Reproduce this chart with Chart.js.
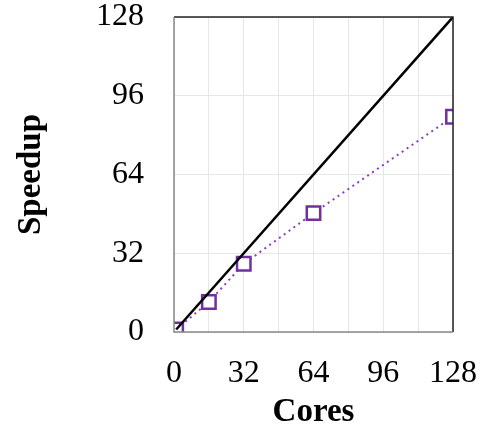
<!DOCTYPE html>
<html>
<head>
<meta charset="utf-8">
<script src="https://cdn.jsdelivr.net/npm/chart.js@4/dist/chart.umd.min.js"></script>
<style>
  html, body { margin: 0; padding: 0; background: #fff; }
  #wrap { width: 485px; height: 434px; }
</style>
</head>
<body>
<div id="wrap"><canvas id="chart"></canvas></div>
<script>
const cores = [1, 16, 32, 64, 128];
const speedup = [1, 12.2, 27.7, 48.3, 87.5];
const idealCores = [1, 128];
const idealSpeedup = [1, 128];
const axisTicks = [0, 32, 64, 96, 128];

const serif = '"Liberation Serif", "Times New Roman", serif';

// frame round the plot area: grey left/bottom, dark top/right
const framePlugin = {
    id: 'frame',
    afterDatasetsDraw(chart) {
        const { ctx, chartArea: a } = chart;
        ctx.save();
        ctx.lineWidth = 1.5;
        ctx.strokeStyle = '#222';
        ctx.beginPath();
        ctx.moveTo(a.left, a.top);
        ctx.lineTo(a.right, a.top);
        ctx.lineTo(a.right, a.bottom);
        ctx.stroke();
        ctx.strokeStyle = '#888';
        ctx.beginPath();
        ctx.moveTo(a.left, a.top);
        ctx.lineTo(a.left, a.bottom);
        ctx.lineTo(a.right, a.bottom);
        ctx.stroke();
        ctx.restore();
    }
};

new Chart(document.getElementById('chart'), {
    type: 'scatter',
    data: {
        datasets: [
            {
                label: 'Ideal',
                data: idealCores.map((c, i) => ({ x: c, y: idealSpeedup[i] })),
                showLine: true,
                borderColor: '#000',
                borderWidth: 2.5,
                pointRadius: 0,
                order: 0
            },
            {
                label: 'Measured',
                data: cores.map((c, i) => ({ x: c, y: speedup[i] })),
                showLine: true,
                borderColor: '#8a3fc0',
                borderWidth: 2,
                borderDash: [2, 4],
                pointStyle: 'rect',
                pointRadius: 9.5,
                pointBorderWidth: 2.5,
                pointBorderColor: '#7030a0',
                pointBackgroundColor: '#fff',
                order: 1
            }
        ]
    },
    options: {
        responsive: true,
        maintainAspectRatio: false,
        animation: false,
        layout: { padding: { top: 17, right: 32, left: 0, bottom: 0 } },
        plugins: {
            legend: { display: false },
            tooltip: { enabled: false }
        },
        scales: {
            x: {
                type: 'linear',
                min: 0,
                max: 128,
                border: { display: false },
                grid: { color: '#e6e6e6', lineWidth: 1, drawTicks: false },
                afterBuildTicks: axis => {
                    axis.ticks = [];
                    for (let v = 0; v <= 128; v += 16) axis.ticks.push({ value: v });
                },
                ticks: {
                    autoSkip: false,
                    maxRotation: 0,
                    padding: 22,
                    color: '#000',
                    font: { family: serif, size: 32 },
                    callback: v => axisTicks.includes(v) ? String(v) : ''
                },
                title: {
                    display: true,
                    text: 'Cores',
                    color: '#000',
                    padding: { top: 0, bottom: 2 },
                    font: { family: serif, size: 33, weight: 'bold' }
                },
                afterFit: axis => {
                    axis.height = 102;
                    axis.paddingLeft = 0;
                    axis.paddingRight = 0;
                }
            },
            y: {
                type: 'linear',
                min: 0,
                max: 128,
                border: { display: false },
                grid: { color: '#e6e6e6', lineWidth: 1, drawTicks: false },
                afterBuildTicks: axis => {
                    axis.ticks = axisTicks.map(v => ({ value: v }));
                },
                ticks: {
                    padding: 30,
                    color: '#000',
                    font: { family: serif, size: 32 }
                },
                title: {
                    display: true,
                    text: 'Speedup',
                    color: '#000',
                    padding: { top: 12, bottom: 0 },
                    font: { family: serif, size: 33, weight: 'bold' }
                },
                afterFit: axis => {
                    axis.width = 174;
                    axis.paddingTop = 0;
                    axis.paddingBottom = 0;
                }
            }
        }
    },
    plugins: [framePlugin]
});
</script>
</body>
</html>
